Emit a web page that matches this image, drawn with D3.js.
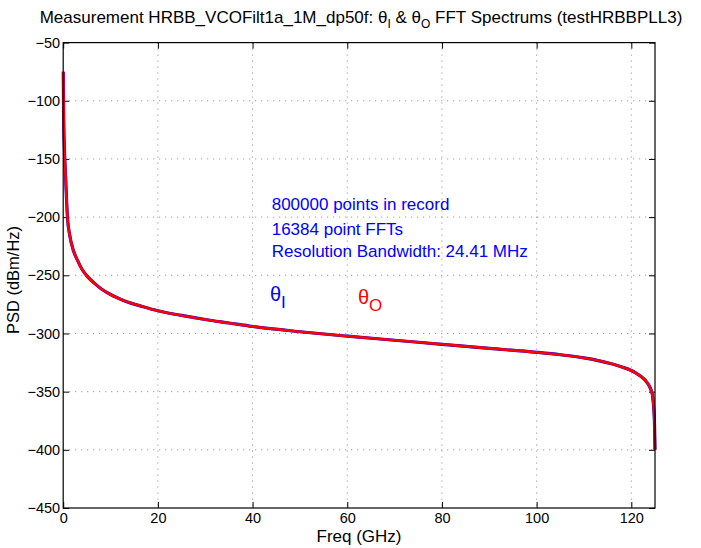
<!DOCTYPE html>
<html>
<head>
<meta charset="utf-8">
<script src="https://cdn.jsdelivr.net/npm/d3@7/dist/d3.min.js"></script>
<style>
body { margin: 0; background: #fff; }
text { font-family: "Liberation Sans", Arial, Helvetica, sans-serif; }
</style>
</head>
<body>
<div id="chart"></div>
<script>
// values (GHz / dBm/Hz)
var freqGHz = [0.02, 0.1, 0.25, 0.5, 0.9, 1.4, 2.1, 3.0, 4.0, 5, 6.5, 8, 10, 13, 16.9, 20, 25, 30, 35, 40, 50, 60, 70, 80, 90, 100, 105, 110, 113, 116, 118, 120, 121, 122, 123, 123.7, 124.2, 124.5, 124.75, 124.9, 125];
var thetaI = [-75, -115, -140, -165, -200, -216, -228, -237, -245, -250.5, -256.5, -261.5, -266.5, -272, -277, -280.5, -284.5, -288, -291, -294, -298.5, -302.3, -305.8, -309.3, -312.8, -316.2, -318.3, -321, -323.3, -326.3, -328.8, -331.8, -334, -336.8, -340.5, -344.5, -349, -354, -365, -378, -400];
var thetaO = [-75, -115, -140, -165, -200, -216, -228, -237, -245, -250.5, -256.5, -261.5, -266.5, -272, -277, -280.5, -284.5, -288, -291, -294, -298.5, -302.3, -305.8, -309.3, -312.8, -316.2, -318.3, -321, -323.3, -326.3, -328.8, -331.8, -334, -336.8, -340.5, -344.5, -349, -354, -365, -378, -400];

var xTicks = [0, 20, 40, 60, 80, 100, 120];
var yTicks = [-50, -100, -150, -200, -250, -300, -350, -400, -450];
var notes = ["800000 points in record", "16384 point FFTs", "Resolution Bandwidth: 24.41 MHz"];

var margin = {top: 42.6, right: 46, bottom: 40, left: 63.2},
    width = 701 - margin.left - margin.right,
    height = 548 - margin.top - margin.bottom;

var svg = d3.select("#chart").append("svg")
    .attr("width", 701)
    .attr("height", 548);

var g = svg.append("g")
    .attr("transform", "translate(" + margin.left + "," + margin.top + ")");

var x = d3.scaleLinear().domain([0, 125]).range([0, width]);
var y = d3.scaleLinear().domain([-450, -50]).range([height, 0]);

// dotted grid
g.append("g").selectAll("line").data(xTicks.filter(function (d) { return d > 0; }))
    .enter().append("line")
    .attr("x1", function (d) { return x(d); }).attr("x2", function (d) { return x(d); })
    .attr("y1", 0).attr("y2", height)
    .attr("stroke", "#555").attr("stroke-width", 0.7).attr("stroke-dasharray", "1,5");
g.append("g").selectAll("line").data(yTicks.filter(function (d) { return d > -450 && d < -50; }))
    .enter().append("line")
    .attr("y1", function (d) { return y(d); }).attr("y2", function (d) { return y(d); })
    .attr("x1", 0).attr("x2", width)
    .attr("stroke", "#555").attr("stroke-width", 0.7).attr("stroke-dasharray", "1,5");

// axes, ticks pointing inwards
g.append("g").attr("transform", "translate(0," + height + ")")
    .call(d3.axisBottom(x).tickValues(xTicks).tickSize(-6).tickPadding(5));
g.append("g").call(d3.axisTop(x).tickValues(xTicks).tickSize(-6).tickFormat(""));
g.append("g").call(d3.axisLeft(y).tickValues(yTicks).tickSize(-6).tickPadding(3));
g.append("g").attr("transform", "translate(" + width + ",0)")
    .call(d3.axisRight(y).tickValues(yTicks).tickSize(-6).tickFormat(""));
g.selectAll(".domain").remove();
g.selectAll(".tick line").attr("stroke", "#000");
g.selectAll(".tick text").attr("font-size", 14.5).attr("fill", "#000")
    .style("font-family", "'Liberation Sans', Arial, sans-serif");

// spectra
var line = d3.line()
    .x(function (d) { return x(d[0]); })
    .y(function (d) { return y(d[1]); })
    .curve(d3.curveMonotoneX);

g.append("path")
    .datum(d3.zip(freqGHz, thetaI))
    .attr("d", line)
    .attr("fill", "none").attr("stroke", "#0000ff").attr("stroke-width", 3.2);
g.append("path")
    .datum(d3.zip(freqGHz, thetaO))
    .attr("d", line)
    .attr("fill", "none").attr("stroke", "#ff0000").attr("stroke-width", 2.6);

// box
g.append("rect").attr("width", width).attr("height", height)
    .attr("fill", "none").attr("stroke", "#000").attr("stroke-width", 1.2);

// notes
g.append("g").selectAll("text").data(notes).enter().append("text")
    .attr("x", 271.7 - margin.left)
    .attr("y", function (d, i) { return [210, 235, 257][i] - margin.top; })
    .attr("font-size", 17).attr("fill", "#0000ff")
    .text(function (d) { return d; });

var tI = g.append("text").attr("x", 270 - margin.left).attr("y", 301 - margin.top)
    .attr("fill", "#0000ff").attr("font-size", 20);
tI.append("tspan").text("θ");
tI.append("tspan").attr("dy", 7).attr("font-size", 17).text("I");

var tO = g.append("text").attr("x", 358 - margin.left).attr("y", 304 - margin.top)
    .attr("fill", "#ff0000").attr("font-size", 20);
tO.append("tspan").text("θ");
tO.append("tspan").attr("dy", 7).attr("font-size", 17).text("O");

// title
var title = svg.append("text").attr("x", 361).attr("y", 23)
    .attr("text-anchor", "middle").attr("font-size", 17).attr("fill", "#000");
title.append("tspan").text("Measurement HRBB_VCOFilt1a_1M_dp50f: θ");
title.append("tspan").attr("dy", 5).attr("font-size", 12).text("I");
title.append("tspan").attr("dy", -5).text(" & θ");
title.append("tspan").attr("dy", 5).attr("font-size", 12).text("O");
title.append("tspan").attr("dy", -5).text(" FFT Spectrums (testHRBBPLL3)");

// axis labels
svg.append("text").attr("x", 359).attr("y", 542)
    .attr("text-anchor", "middle").attr("font-size", 17).text("Freq (GHz)");
svg.append("text")
    .attr("transform", "translate(19,280) rotate(-90)")
    .attr("text-anchor", "middle").attr("font-size", 16.5).text("PSD (dBm/Hz)");
</script>
</body>
</html>
